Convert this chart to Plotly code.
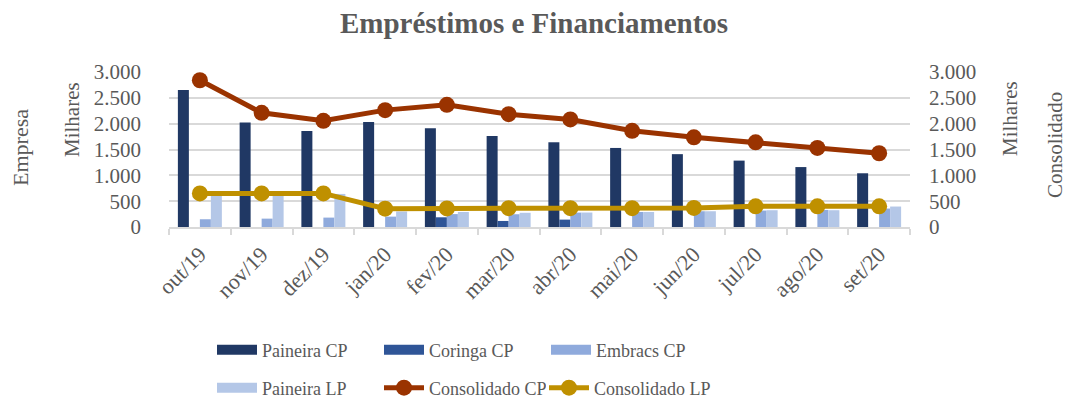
import plotly.graph_objects as go

months = ["out/19", "nov/19", "dez/19", "jan/20", "fev/20", "mar/20",
          "abr/20", "mai/20", "jun/20", "jul/20", "ago/20", "set/20"]

paineira_cp = [2650, 2025, 1860, 2030, 1910, 1760, 1640, 1530, 1410, 1285, 1160, 1040]
coringa_cp = [0, 0, 0, 0, 188, 117, 143, 0, 0, 0, 0, 0]
embracs_cp = [150, 162, 182, 201, 250, 247, 279, 290, 305, 318, 330, 357]
paineira_lp = [610, 610, 640, 300, 290, 275, 280, 290, 305, 325, 325, 396]
consolidado_cp = [2840, 2210, 2055, 2262, 2364, 2184, 2082, 1862, 1735, 1639, 1530, 1427]
consolidado_lp = [650, 650, 650, 355, 360, 365, 365, 365, 370, 400, 400, 400]

tick_vals = [0, 500, 1000, 1500, 2000, 2500, 3000]

C_PCP = "#203864"
C_CCP = "#2F5597"
C_ECP = "#8FAADC"
C_PLP = "#B4C7E7"
C_CONS_CP = "#9A3300"
C_CONS_LP = "#BF9000"
TXT = "#595959"
GRID = "#D9D9D9"
FONT = "Liberation Serif"

fig = go.Figure()

bar_series = [("Paineira CP", paineira_cp, C_PCP, "legend"),
              ("Coringa CP", coringa_cp, C_CCP, "legend"),
              ("Embracs CP", embracs_cp, C_ECP, "legend"),
              ("Paineira LP", paineira_lp, C_PLP, "legend2")]

for name, vals, col, _ in bar_series:
    fig.add_trace(go.Bar(x=months, y=vals, name=name, marker=dict(color=col, line=dict(width=0)),
                         showlegend=False, yaxis="y"))

# legend-only swatches for bar series (wide rectangular symbol)
for name, vals, col, lg in bar_series:
    fig.add_trace(go.Scatter(x=[None], y=[None], mode="lines", name=name,
                             line=dict(color=col, width=10), legend=lg, yaxis="y"))

fig.add_trace(go.Scatter(x=months, y=consolidado_cp, name="Consolidado CP", mode="lines+markers",
                         line=dict(color=C_CONS_CP, width=5), marker=dict(size=16, color=C_CONS_CP),
                         yaxis="y2", legend="legend2"))
fig.add_trace(go.Scatter(x=months, y=consolidado_lp, name="Consolidado LP", mode="lines+markers",
                         line=dict(color=C_CONS_LP, width=5), marker=dict(size=16, color=C_CONS_LP),
                         yaxis="y2", legend="legend3"))

L, R, T, B = 169, 158, 72, 174
W, H = 1068, 401
pw = W - L - R
ph = H - T - B

def px_x(x):
    return (x - L) / pw

def px_y(y):
    return (H - B - y) / ph

legend_common = dict(orientation="h", xanchor="left", yanchor="middle",
                     font=dict(family=FONT, size=18, color=TXT),
                     bgcolor="rgba(0,0,0,0)", entrywidth=112, entrywidthmode="pixels",
                     itemwidth=40, tracegroupgap=0)
legend3_common = dict(legend_common, entrywidth=140)

def title_ann(text, x, y, size):
    return dict(text=text, x=px_x(x), y=px_y(y), xref="paper", yref="paper", textangle=-90,
                xanchor="center", yanchor="middle", showarrow=False,
                font=dict(family=FONT, size=size, color=TXT))

fig.update_layout(
    width=W, height=H,
    margin=dict(l=L, r=R, t=T, b=B, pad=0, autoexpand=False),
    paper_bgcolor="white", plot_bgcolor="white",
    separators=",.",
    barmode="group", bargap=0.2875, bargroupgap=0,
    font=dict(family=FONT, color=TXT),
    title=dict(text="Empréstimos e Financiamentos", x=0.5, xanchor="center",
               y=1 - 23 / H, yanchor="middle", yref="container",
               font=dict(family=FONT, size=29, color=TXT, weight="bold")),
    xaxis=dict(type="category", range=[-0.5, len(months) - 0.5], tickangle=-45, ticks="outside",
               tickson="boundaries", ticklen=6, tickcolor=GRID, tickwidth=1.5, showline=True,
               linecolor=GRID, linewidth=1.5, showgrid=False, ticklabelstandoff=4,
               tickfont=dict(family=FONT, size=22, color=TXT)),
    yaxis=dict(range=[0, 3000], tickvals=tick_vals, tickformat=",.0f", showgrid=True,
               gridcolor=GRID, gridwidth=1.5, zeroline=False, showline=False,
               ticklabelstandoff=27, tickfont=dict(family=FONT, size=21, color=TXT)),
    yaxis2=dict(range=[0, 3000], tickvals=tick_vals, tickformat=",.0f", overlaying="y", side="right",
                showgrid=False, zeroline=False, showline=False, ticklabelstandoff=18,
                tickfont=dict(family=FONT, size=21, color=TXT)),
    legend=dict(x=px_x(212), y=px_y(350), **legend_common),
    legend2=dict(x=px_x(212), y=px_y(388), **legend_common),
    legend3=dict(x=px_x(212 + 2 * 166), y=px_y(388), **legend3_common),
    annotations=[
        title_ann("Empresa", 20, 148, 22),
        title_ann("Milhares", 72, 120, 21),
        title_ann("Milhares", 1010, 119, 21),
        title_ann("Consolidado", 1055, 145, 21),
    ],
)

fig.write_html("out.html", config={"displayModeBar": False},
               post_script="document.body.style.margin='0';document.body.style.overflow='hidden';")
